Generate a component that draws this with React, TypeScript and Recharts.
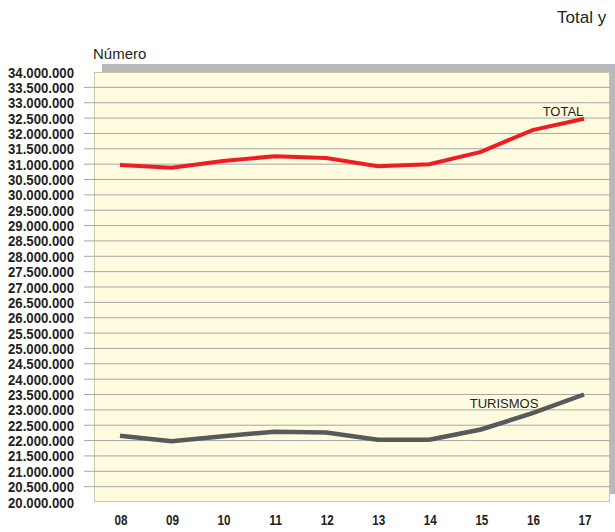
import React from 'react';
import { LineChart, Line, XAxis, YAxis, CartesianGrid } from 'recharts';

// values
const years = ['08', '09', '10', '11', '12', '13', '14', '15', '16', '17'];
const total = [30970000, 30880000, 31100000, 31260000, 31200000, 30930000, 31000000, 31400000, 32110000, 32480000];
const turismos = [22160000, 21980000, 22140000, 22290000, 22260000, 22030000, 22030000, 22360000, 22890000, 23500000];
const yTicks = [
  20000000, 20500000, 21000000, 21500000, 22000000, 22500000, 23000000, 23500000,
  24000000, 24500000, 25000000, 25500000, 26000000, 26500000, 27000000, 27500000,
  28000000, 28500000, 29000000, 29500000, 30000000, 30500000, 31000000, 31500000,
  32000000, 32500000, 33000000, 33500000, 34000000,
];

const data = years.map((year, i) => ({ year, total: total[i], turismos: turismos[i] }));

const FONT = '"Liberation Sans", Arial, sans-serif';
const fmt = (v: number) => String(v).replace(/\B(?=(\d{3})+(?!\d))/g, '.');

const YTick = (props: any) => {
  const { x, y, payload } = props;
  const v = payload.value;
  const edge = v === yTicks[0] || v === yTicks[yTicks.length - 1];
  return (
    <g>
      {!edge && <line x1={x + 10} x2={x + 20} y1={y} y2={y} stroke="#a7a7a7" strokeWidth={1} />}
      <text
        x={x}
        y={y + 5.5}
        textAnchor="end"
        fontFamily={FONT}
        fontSize={14}
        fontWeight="bold"
        fill="#231f20"
        textLength={66}
        lengthAdjust="spacingAndGlyphs"
      >
        {fmt(v)}
      </text>
    </g>
  );
};

const XTick = (props: any) => {
  const { x, y, payload } = props;
  return (
    <text
      x={x + 1}
      y={y + 15}
      textAnchor="middle"
      fontFamily={FONT}
      fontSize={14}
      fontWeight="bold"
      fill="#231f20"
      textLength={13}
      lengthAdjust="spacingAndGlyphs"
    >
      {payload.value}
    </text>
  );
};

const seriesLabel = (text: string, dx: number, dy: number) => (props: any) => {
  const { x, y, index } = props;
  if (index !== years.length - 1) return null;
  return (
    <text x={x + dx} y={y + dy} textAnchor="middle" fontFamily={FONT} fontSize={13} fill="#231f20">
      {text}
    </text>
  );
};

export default function App() {
  return (
    <div style={{ position: 'absolute', left: 0, top: 0, width: 615, height: 532, overflow: 'hidden', background: '#fff', fontFamily: FONT }}>
      {/* shadow + plot background */}
      <div style={{ position: 'absolute', left: 102, top: 64, width: 520, height: 430, background: '#b8b9bd' }} />
      <div style={{ position: 'absolute', left: 94, top: 72, width: 516, height: 430, boxSizing: 'border-box', background: '#fffbdf', border: '1px solid #cbc7a8' }} />
      <div style={{ position: 'absolute', left: 557, top: 8, fontSize: 17, lineHeight: '20px', color: '#231f20', whiteSpace: 'nowrap' }}>Total y</div>
      <div style={{ position: 'absolute', left: 93, top: 45, fontSize: 15, lineHeight: '17px', color: '#231f20' }}>Número</div>
      <div style={{ position: 'absolute', left: 0, top: 0 }}>
        <LineChart width={615} height={532} data={data} margin={{ top: 72, right: 5, bottom: 0, left: 0 }}>
          <CartesianGrid vertical={false} stroke="#a7a7a7" horizontalValues={yTicks.slice(1, -1)} />
          <XAxis
            dataKey="year"
            height={30}
            padding={{ left: 26, right: 26 }}
            axisLine={false}
            tickLine={false}
            tick={<XTick />}
            interval={0}
          />
          <YAxis
            type="number"
            width={94}
            domain={[20000000, 34000000]}
            ticks={yTicks}
            interval={0}
            axisLine={false}
            tickLine={false}
            tickSize={10}
            tickMargin={10}
            tick={<YTick />}
          />
          <Line
            type="linear"
            dataKey="total"
            stroke="#ee1d23"
            strokeWidth={4}
            dot={false}
            isAnimationActive={false}
            label={seriesLabel('TOTAL', -21, -3)}
          />
          <Line
            type="linear"
            dataKey="turismos"
            stroke="#58595b"
            strokeWidth={4.5}
            dot={false}
            isAnimationActive={false}
            label={seriesLabel('TURISMOS', -80, 13)}
          />
        </LineChart>
      </div>
    </div>
  );
}
